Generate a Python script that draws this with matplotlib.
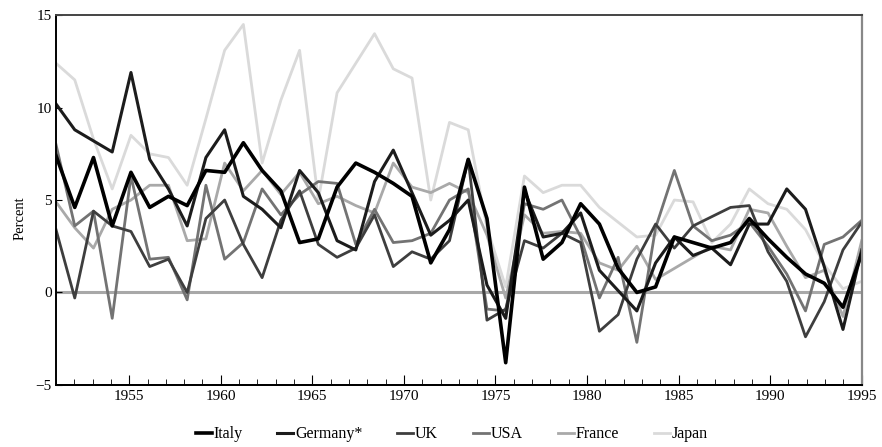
import numpy as np
import matplotlib
matplotlib.use('Agg')
import matplotlib.pyplot as plt
from matplotlib.ticker import MultipleLocator

# growth of real output, percent, 1951-1994
years = list(range(1951, 1995))

italy = [7.4, 4.6, 7.3, 3.6, 6.5, 4.6, 5.2, 4.7, 6.6, 6.5,
         8.1, 6.6, 5.5, 2.7, 2.9, 5.7, 7.0, 6.5, 5.9, 5.2,
         1.6, 3.4, 7.2, 4.0, -3.8, 5.7, 1.8, 2.7, 4.8, 3.7,
         1.3, 0.0, 0.3, 3.0, 2.7, 2.4, 2.7, 4.0, 2.9, 1.9,
         1.0, 0.5, -0.8, 2.1]
germany = [10.2, 8.8, 8.2, 7.6, 11.9, 7.2, 5.6, 3.6, 7.3, 8.8,
           5.2, 4.5, 3.5, 6.6, 5.4, 2.8, 2.3, 6.0, 7.7, 5.4,
           3.1, 3.9, 5.0, 0.4, -1.4, 5.5, 3.0, 3.2, 4.3, 1.2,
           0.1, -1.0, 1.6, 3.0, 2.0, 2.4, 1.5, 3.7, 3.7, 5.6,
           4.5, 1.4, -2.0, 2.3]
uk = [3.4, -0.3, 4.4, 3.6, 3.3, 1.4, 1.8, 0.0, 4.0, 5.0,
      2.6, 0.8, 3.9, 5.5, 2.6, 1.9, 2.4, 4.2, 1.4, 2.2,
      1.8, 2.8, 7.2, -1.5, -0.9, 2.8, 2.4, 3.2, 2.7, -2.1,
      -1.2, 1.8, 3.7, 2.4, 3.6, 4.1, 4.6, 4.7, 2.2, 0.6,
      -2.4, -0.5, 2.3, 3.8]
usa = [8.0, 3.6, 4.4, -1.4, 6.3, 1.8, 1.9, -0.4, 5.8, 1.8,
       2.7, 5.6, 4.2, 5.3, 6.0, 5.9, 2.6, 4.5, 2.7, 2.8,
       3.2, 5.0, 5.6, -0.9, -1.0, 4.8, 4.5, 5.0, 3.0, -0.3,
       1.9, -2.7, 3.5, 6.6, 3.6, 2.8, 3.1, 3.8, 2.5, 1.0,
       -1.0, 2.6, 3.0, 3.9]
france = [4.9, 3.5, 2.4, 4.5, 5.0, 5.8, 5.8, 2.8, 2.9, 7.0,
          5.5, 6.6, 5.3, 6.5, 4.8, 5.2, 4.7, 4.3, 7.0, 5.7,
          5.4, 5.9, 5.4, 3.1, -0.3, 4.2, 3.2, 3.3, 3.2, 1.6,
          1.2, 2.5, 0.7, 1.3, 1.9, 2.5, 2.3, 4.5, 4.3, 2.5,
          0.8, 1.2, -1.3, 2.8]
japan = [12.4, 11.5, 8.3, 5.6, 8.5, 7.5, 7.3, 5.8, 9.4, 13.1,
         14.5, 7.0, 10.4, 13.1, 5.0, 10.8, 12.4, 14.0, 12.1, 11.6,
         5.0, 9.2, 8.8, 3.5, 0.3, 6.3, 5.4, 5.8, 5.8, 4.6,
         3.8, 3.0, 3.1, 5.0, 4.9, 2.7, 3.7, 5.6, 4.8, 4.5,
         3.4, 1.5, 0.2, 0.6]

names = ['Italy', 'Germany*', 'UK', 'USA', 'France', 'Japan']
series = [italy, germany, uk, usa, france, japan]
colors = ['#000000', '#1c1c1c', '#3e3e3e', '#737373', '#a9a9a9', '#dadada']
widths = [2.6, 2.2, 2.0, 2.0, 2.0, 2.0]

plt.rcParams['font.family'] = ['Liberation Serif', 'DejaVu Serif']

fig = plt.figure(figsize=(8.82, 4.47), dpi=100)
ax = fig.add_axes([0.0635, 0.139, 0.9135, 0.827])

ax.axhline(0, color='#a8a8a8', lw=2.2, zorder=1)
# draw light series first so the dark ones sit on top
for name, vals, c, w in reversed(list(zip(names, series, colors, widths))):
    ax.plot(years, vals, color=c, lw=w, label=name, zorder=2)

ax.set_xlim(1951, 1994)
ax.set_ylim(-5, 15)
ax.tick_params(axis='x', which='both', bottom=False, labelbottom=False)
ax.yaxis.set_major_locator(MultipleLocator(5))
ax.tick_params(axis='y', direction='in', length=4, labelsize=11, pad=3)
ax.set_ylabel('Percent', fontsize=10.5)
ax.yaxis.set_label_coords(-0.036, 0.45)

# tick scale of the original runs 1951-1995 over the same width
def fwd(x):
    return 1951 + (np.asarray(x) - 1951) * 44.0 / 43.0

def inv(t):
    return 1951 + (np.asarray(t) - 1951) * 43.0 / 44.0

sec = ax.secondary_xaxis('bottom', functions=(fwd, inv))
sec.set_xticks(range(1955, 1996, 5))
sec.xaxis.set_minor_locator(MultipleLocator(1))
sec.tick_params(axis='x', which='major', direction='in', length=7, labelsize=11, pad=4)
sec.tick_params(axis='x', which='minor', direction='in', length=4)
sec.spines['bottom'].set_linewidth(1.4)

ax.spines['left'].set_linewidth(1.4)
ax.spines['bottom'].set_linewidth(1.4)
ax.spines['top'].set_linewidth(1.4)
ax.spines['top'].set_color('#444444')
ax.spines['right'].set_linewidth(1.6)
ax.spines['right'].set_color('#888888')

handles, labels = ax.get_legend_handles_labels()
handles, labels = handles[::-1], labels[::-1]
fig.legend(handles, labels, loc='lower center', bbox_to_anchor=(0.512, -0.022),
           ncol=6, frameon=False, fontsize=11.5, handlelength=1.0,
           handletextpad=0.1, columnspacing=2.2)

fig.savefig('out.png', dpi=100)
